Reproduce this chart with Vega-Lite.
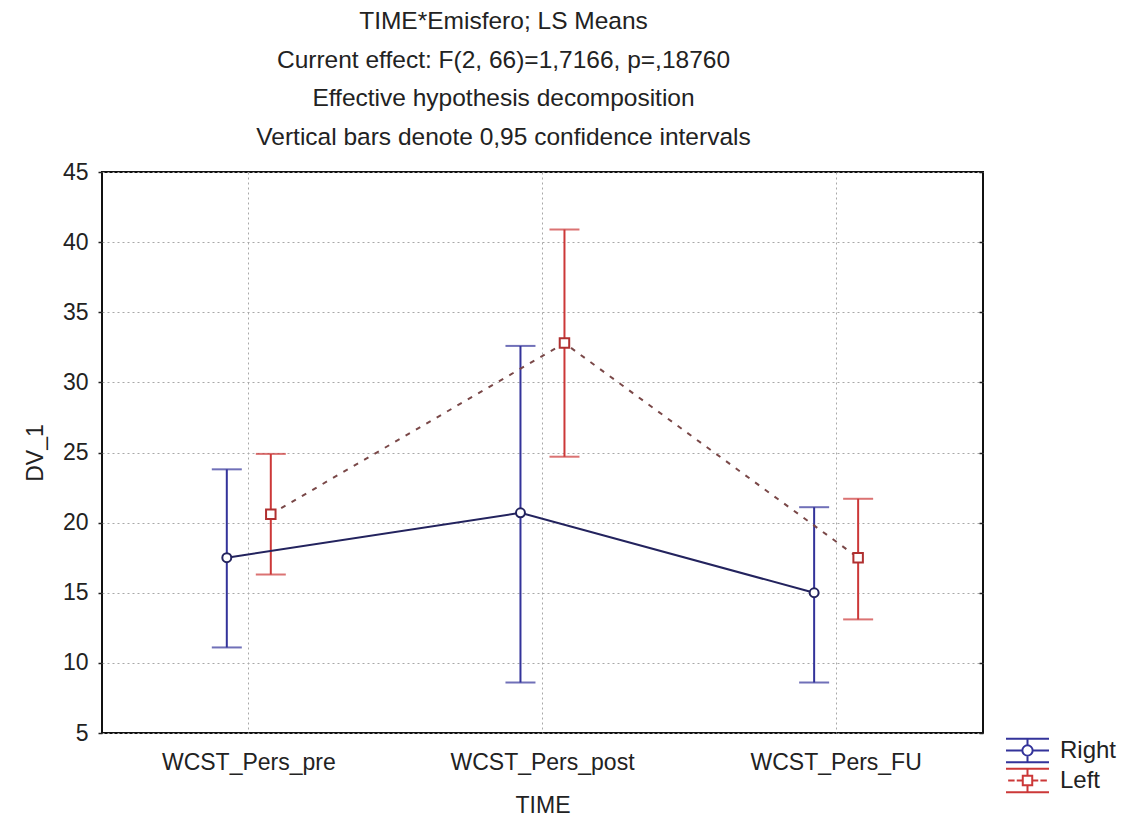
{
  "$schema": "https://vega.github.io/schema/vega-lite/v6.json",
  "autosize": "none",
  "width": 881,
  "height": 561,
  "padding": {"left": 102, "top": 172, "right": 143, "bottom": 83},
  "background": "white",
  "title": {
    "text": ["TIME*Emisfero; LS Means", "Current effect: F(2, 66)=1,7166, p=,18760", "Effective hypothesis decomposition", "Vertical bars denote 0,95 confidence intervals"],
    "font": "Liberation Sans",
    "fontSize": 24.5,
    "fontWeight": "normal",
    "color": "#222222",
    "lineHeight": 38.5,
    "anchor": "middle",
    "dx": -39,
    "offset": 11
  },
  "data": {
    "values": [
      {"time": "WCST_Pers_pre", "series": "Right", "mean": 17.5, "lo": 11.1, "hi": 23.8},
      {"time": "WCST_Pers_pre", "series": "Left", "mean": 20.6, "lo": 16.3, "hi": 24.9},
      {"time": "WCST_Pers_post", "series": "Right", "mean": 20.7, "lo": 8.6, "hi": 32.6},
      {"time": "WCST_Pers_post", "series": "Left", "mean": 32.8, "lo": 24.7, "hi": 40.9},
      {"time": "WCST_Pers_FU", "series": "Right", "mean": 15.0, "lo": 8.6, "hi": 21.1},
      {"time": "WCST_Pers_FU", "series": "Left", "mean": 17.5, "lo": 13.1, "hi": 21.7}
    ]
  },
  "encoding": {
    "x": {
      "field": "time", "type": "nominal",
      "sort": ["WCST_Pers_pre", "WCST_Pers_post", "WCST_Pers_FU"],
      "scale": {"paddingInner": 0, "paddingOuter": 0},
      "axis": {
        "title": "TIME", "labelAngle": 0, "ticks": false, "domain": false, "labelLimit": 0,
        "grid": true, "bandPosition": 0.5, "gridColor": "#a8a8a8", "gridDash": [2, 3], "gridWidth": 1,
        "labelFont": "Liberation Sans", "labelFontSize": 23, "labelColor": "#222222", "labelPadding": 18,
        "titleFont": "Liberation Sans", "titleFontSize": 23, "titleFontWeight": "normal", "titleColor": "#222222", "titlePadding": 20
      }
    },
    "xOffset": {"field": "series", "type": "nominal", "scale": {"domain": ["Right", "Left"], "range": [102.8, 190.8], "paddingInner": 0, "paddingOuter": 0}}
  },
  "resolve": {"axis": {"y": "independent"}},
  "layer": [
    {
      "mark": {"type": "rule", "strokeWidth": 2},
      "encoding": {
        "y": {"field": "lo", "type": "quantitative", "scale": {"domain": [5, 45], "nice": false, "zero": false},
          "axis": {"title": "DV_1", "values": [5, 10, 15, 20, 25, 30, 35, 40, 45], "domain": false,
            "grid": true, "gridColor": "#a8a8a8", "gridDash": [2, 3], "gridWidth": 1,
            "ticks": true, "tickSize": 4, "tickColor": "#222222", "tickWidth": 1.5,
            "labelFont": "Liberation Sans", "labelFontSize": 23, "labelColor": "#222222", "labelPadding": 10,
            "titleFont": "Liberation Sans", "titleFontSize": 23, "titleFontWeight": "normal", "titleColor": "#222222", "titlePadding": 15}},
        "y2": {"field": "hi"},
        "stroke": {"condition": {"test": "datum.series === 'Right'", "value": "#33339a"}, "value": "#cc3838"}
      }
    },
    {
      "mark": {"type": "tick", "thickness": 2, "size": 30},
      "encoding": {
        "y": {"field": "lo", "type": "quantitative", "axis": null},
        "fill": {"condition": {"test": "datum.series === 'Right'", "value": "#33339a"}, "value": "#cc3838"}
      }
    },
    {
      "mark": {"type": "tick", "thickness": 2, "size": 30},
      "encoding": {
        "y": {"field": "hi", "type": "quantitative", "axis": null},
        "fill": {"condition": {"test": "datum.series === 'Right'", "value": "#33339a"}, "value": "#cc3838"}
      }
    },
    {
      "transform": [{"filter": "datum.series === 'Right'"}],
      "mark": {"type": "line", "color": "#23235e", "strokeWidth": 2},
      "encoding": {"y": {"field": "mean", "type": "quantitative", "axis": null}}
    },
    {
      "transform": [{"filter": "datum.series === 'Left'"}],
      "mark": {"type": "line", "color": "#7a4848", "strokeWidth": 2, "strokeDash": [5, 7]},
      "encoding": {"y": {"field": "mean", "type": "quantitative", "axis": null}}
    },
    {
      "transform": [{"filter": "datum.series === 'Right'"}],
      "mark": {"type": "point", "shape": "circle", "filled": true, "fill": "white", "stroke": "#23235e", "strokeWidth": 2, "size": 80, "opacity": 1},
      "encoding": {"y": {"field": "mean", "type": "quantitative", "axis": null}}
    },
    {
      "transform": [{"filter": "datum.series === 'Left'"}],
      "mark": {"type": "point", "shape": "square", "filled": true, "fill": "white", "stroke": "#b03030", "strokeWidth": 2, "size": 90, "opacity": 1},
      "encoding": {"y": {"field": "mean", "type": "quantitative", "axis": null}}
    },
    {
      "mark": {"type": "point", "filled": false, "opacity": 0},
      "encoding": {
        "y": {"field": "mean", "type": "quantitative",
          "axis": {"orient": "right", "title": null, "labels": false, "grid": false, "domain": false,
            "values": [5, 10, 15, 20, 25, 30, 35, 40, 45], "ticks": true, "tickSize": -4, "tickColor": "#222222", "tickWidth": 1.5}},
        "stroke": {"field": "series", "type": "nominal", "scale": {"domain": ["Right", "Left"], "range": ["#33339a", "#cc3838"]}},
        "shape": {"field": "series", "type": "nominal",
          "scale": {"domain": ["Right", "Left"], "range": [
            "M-1,-0.55H1M-1,0.55H1M0,-0.55V-0.24M0,0.24V0.55M-1,0H-0.24M0.24,0H1M-0.24,0A0.24,0.24 0 1 0 0.24,0A0.24,0.24 0 1 0 -0.24,0",
            "M-1,-0.55H1M-1,0.55H1M0,-0.55V-0.22M0,0.22V0.55M-0.9,0H-0.6M-0.5,0H-0.22M0.22,0H0.5M0.6,0H0.9M-0.22,-0.22H0.22V0.22H-0.22Z"
          ]}
        }
      }
    }
  ],
  "config": {
    "view": {"stroke": "#111111", "strokeWidth": 2},
    "legend": {
      "title": null, "orient": "none", "legendX": 903, "legendY": 564,
      "symbolSize": 1849, "symbolOpacity": 1, "symbolStrokeWidth": 2, "symbolFillColor": "white",
      "clipHeight": 29, "rowPadding": 1, "labelOffset": 10,
      "labelFont": "Liberation Sans", "labelFontSize": 24, "labelColor": "#222222"
    }
  }
}
